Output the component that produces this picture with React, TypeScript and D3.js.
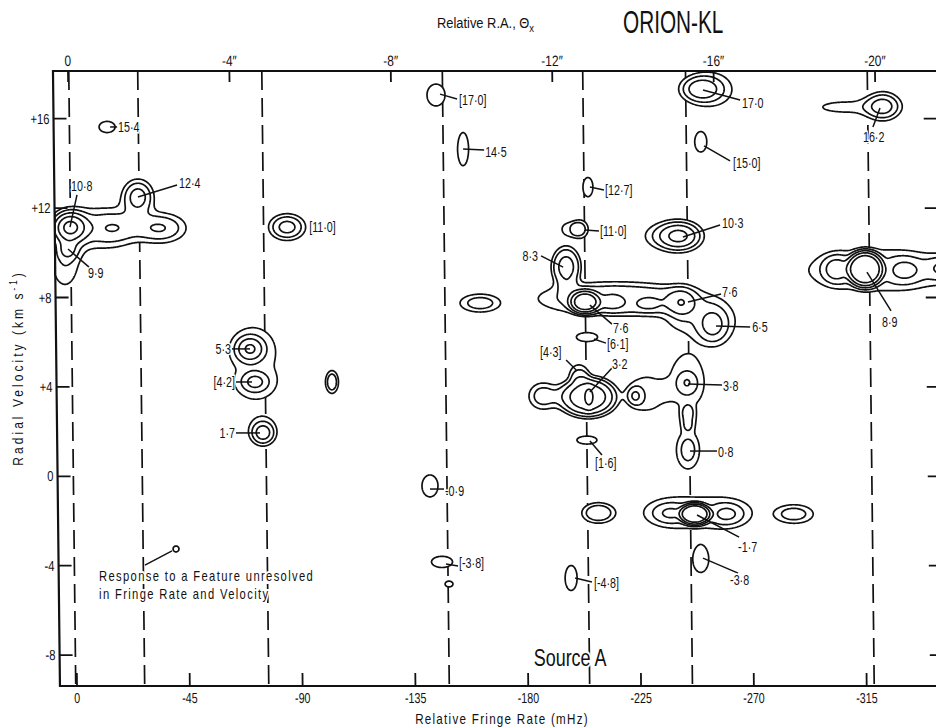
import React, { useEffect, useRef } from "react";
import * as d3 from "d3";

// axis ticks
const fringeTicks = [0, -45, -90, -135, -180, -225, -270, -315];
const raTicks = [0, -4, -8, -12, -16, -20];
const velocityTicks = [-8, -4, 0, 4, 8, 12, 16];

// fringe rate (mHz) of the dashed reference lines
const dashedLines = [0.5, -27, -76.5, -148.5, -204.5, -245.5, -318];

// emission components: [fringe rate mHz, velocity km/s, peak, half width mHz, half height km/s, profile exponent]
const components: number[][] = [
  [-12.0, 15.63, 1.3, 3.2, 0.25, 4], // 15.4
  [2.8, 11.15, 7, 8.0, 0.8, 2], // 10.8
  [-6.0, 11.1, 1.6, 8, 0.7, 2],
  [-16.0, 11.11, 1.9, 7.2, 0.62, 2],
  [-33.1, 11.11, 2.9, 10.4, 0.67, 2],
  [-24.3, 12.5, 3.6, 6.4, 0.8, 2], // 12.4
  [3.6, 10.12, 1.9, 2.8, 0.31, 2], // 9.9
  [4.8, 9.59, 1.6, 4.8, 1.0, 2],
  [-83.8, 11.15, 3.5, 7.4, 0.6, 2], // 11.0
  [-69.0, 5.7, 4.0, 6.0, 0.6, 2], // 5.3
  [-71.0, 4.22, 2.5, 4.8, 0.4, 2], // 4.2
  [-71.8, 4.99, 1.05, 6, 1.1, 3],
  [-74.2, 1.94, 3.5, 5.0, 0.55, 2], // 1.7
  [-101.7, 4.22, 2.2, 2.6, 0.51, 3],
  [-39.5, -3.25, 1.3, 1.2, 0.134, 4], // unresolved response
  [-143.2, 17.06, 1.3, 3.6, 0.49, 4], // [17.0]
  [-154.0, 14.64, 1.3, 2.2, 0.74, 4], // 14.5
  [-203.8, 12.94, 1.3, 2.0, 0.43, 4], // [12.7]
  [-200.7, 11.06, 2.0, 3.2, 0.4, 3], // [11.0]
  [-195.9, 11.06, 1.2, 2.4, 0.25, 3],
  [-140.8, -0.43, 1.3, 3.2, 0.49, 4], // -0.9
  [-145.6, -3.83, 1.3, 4.2, 0.25, 4], // [-3.8]
  [-148.4, -4.82, 1.3, 1.6, 0.13, 4],
  [-197.1, -4.55, 1.3, 2.4, 0.56, 4], // [-4.8]
  [-207.8, -1.64, 2.3, 6.4, 0.45, 3],
  [-160.8, 7.75, 2.0, 8.0, 0.4, 3],
  [-195.1, 9.36, 3.2, 6.0, 0.95, 3], // 8.3
  [-202.6, 7.8, 8, 6.8, 0.58, 3], // 7.6
  [-213.4, 7.8, 1.6, 3.6, 0.25, 2],
  [-227.8, 7.71, 1.3, 2.4, 0.15, 2],
  [-214, 7.95, 2.1, 30, 0.75, 4],
  [-241.3, 7.76, 2.6, 5.2, 0.63, 2], // 7.6
  [-253.7, 6.77, 2.6, 5.6, 0.76, 2], // 6.5
  [-248.5, 7.07, 1.3, 10, 0.67, 2],
  [-203.4, 6.23, 1.3, 4.2, 0.2, 4], // [6.1]
  [-203.8, 3.55, 6, 12.8, 0.98, 3], // 3.2
  [-204.2, 3.55, 2.5, 1.6, 0.45, 2],
  [-200.2, 4.62, 1.6, 3.2, 0.36, 3], // [4.3]
  [-185.9, 3.59, 2.4, 5.6, 0.58, 2],
  [-222.6, 3.59, 2.0, 2.6, 0.33, 2],
  [-227.4, 3.7, 1.3, 6.4, 0.72, 4],
  [-243.3, 4.17, 1.3, 6.8, 1.07, 4], // 3.8
  [-243.3, 4.17, 1.5, 3.2, 0.4, 4],
  [-243.7, 1.18, 1.3, 4.6, 0.85, 4], // 0.8
  [-243.7, 1.18, 1.5, 2.0, 0.36, 4],
  [-243.7, 2.61, 1.3, 2.6, 0.45, 4],
  [-203.4, 1.62, 1.3, 4.0, 0.18, 4], // [1.6]
  [-240.5, 10.75, 4.8, 9.6, 0.72, 2], // 10.3
  [-232.6, 10.75, 1.2, 4, 0.27, 2],
  [-248.8, 17.33, 3.5, 8.0, 0.58, 2], // 17.0
  [-254.4, 17.29, 1.2, 4.8, 0.45, 2],
  [-248.8, 14.96, 1.3, 2.4, 0.45, 4], // [15.0]
  [-321.5, 16.56, 3.2, 6.8, 0.63, 2], // 16.2
  [-306.3, 16.52, 1.25, 8.8, 0.22, 2],
  [-314.4, 9.27, 9, 8.0, 0.89, 4], // 8.9
  [-302.8, 9.27, 2.8, 5.0, 0.55, 2],
  [-330.1, 9.22, 2.2, 5.6, 0.45, 2],
  [-346.2, 9.31, 2.2, 6, 0.45, 2],
  [-320.3, 9.22, 1.5, 28, 0.9, 4],
  [-246.5, -1.69, 9, 6.8, 0.54, 4], // -1.7
  [-236.5, -1.65, 2.0, 5.6, 0.36, 2],
  [-259.3, -1.69, 2.2, 5.6, 0.4, 2],
  [-247.7, -1.61, 1.3, 18, 0.67, 3],
  [-286.4, -1.69, 1.9, 7.2, 0.4, 3],
  [-248.8, -3.7, 1.3, 3.2, 0.6, 4], // -3.8
];

const contourLevels = [1, 1.7, 2.8, 4.5, 7, 11];

// feature labels: text, leader [f0, v0, f1, v1], text position [f, v], anchor
type Label = { text: string; leader: number[] | null; at: number[]; anchor: string };
const labels: Label[] = [
  { text: "15·4", leader: [-13.2, 15.63, -16.0, 15.63], at: [-16.4, 15.63], anchor: "start" },
  { text: "10·8", leader: [2.8, 11.15, 0, 12.59], at: [2.4, 12.99], anchor: "start" },
  { text: "12·4", leader: [-24.3, 12.5, -39.9, 13.03], at: [-40.7, 13.12], anchor: "start" },
  { text: "9·9", leader: [3.6, 10.17, -4.8, 9.36], at: [-4.4, 9.1], anchor: "start" },
  { text: "[11·0]", leader: null, at: [-92.6, 11.15], anchor: "start" },
  { text: "5·3", leader: [-61.8, 5.7, -69.0, 5.7], at: [-61.4, 5.7], anchor: "end" },
  { text: "[4·2]", leader: [-63.4, 4.22, -69.8, 4.22], at: [-63.0, 4.22], anchor: "end" },
  { text: "1·7", leader: [-63.4, 1.94, -73.0, 1.94], at: [-63.0, 1.94], anchor: "end" },
  { text: "[17·0]", leader: [-144.8, 17.1, -151.6, 16.88], at: [-152.4, 16.84], anchor: "start" },
  { text: "14·5", leader: [-154.0, 14.64, -162.4, 14.6], at: [-162.8, 14.51], anchor: "start" },
  { text: "[12·7]", leader: [-204.6, 12.94, -210.2, 12.81], at: [-210.6, 12.81], anchor: "start" },
  { text: "[11·0]", leader: [-202.6, 11.02, -208.2, 10.97], at: [-208.6, 10.97], anchor: "start" },
  { text: "8·3", leader: [-185.1, 9.86, -193.9, 9.36], at: [-183.9, 9.86], anchor: "end" },
  { text: "7·6", leader: [-204.6, 7.66, -213.4, 6.81], at: [-213.8, 6.63], anchor: "start" },
  { text: "7·6", leader: [-243.7, 7.8, -256.9, 8.16], at: [-257.3, 8.25], anchor: "start" },
  { text: "6·5", leader: [-254.9, 6.72, -268.5, 6.68], at: [-269.3, 6.68], anchor: "start" },
  { text: "[6·1]", leader: [-206.2, 6.14, -211.0, 5.96], at: [-211.4, 5.92], anchor: "start" },
  { text: "[4·3]", leader: [-195.1, 5.2, -199.5, 4.71], at: [-184.7, 5.56], anchor: "start" },
  { text: "3·2", leader: [-204.6, 3.77, -213.4, 4.85], at: [-213.4, 5.02], anchor: "start" },
  { text: "3·8", leader: [-243.7, 4.13, -257.3, 4.08], at: [-257.7, 4.04], anchor: "start" },
  { text: "0·8", leader: [-244.5, 1.13, -255.3, 1.13], at: [-255.7, 1.09], anchor: "start" },
  { text: "[1·6]", leader: [-204.6, 1.58, -209.4, 0.95], at: [-206.6, 0.6], anchor: "start" },
  { text: "-0·9", leader: [-140.8, -0.57, -146.4, -0.57], at: [-146.8, -0.66], anchor: "start" },
  { text: "[-3·8]", leader: [-147.2, -3.92, -152.0, -4.01], at: [-152.4, -3.88], anchor: "start" },
  { text: "[-4·8]", leader: [-198.7, -4.55, -205.4, -4.73], at: [-206.2, -4.77], anchor: "start" },
  { text: "10·3", leader: [-241.7, 10.71, -256.5, 11.24], at: [-257.3, 11.33], anchor: "start" },
  { text: "17·0", leader: [-249.7, 17.28, -264.5, 16.84], at: [-265.3, 16.7], anchor: "start" },
  { text: "[15·0]", leader: [-250.1, 14.78, -260.5, 14.11], at: [-261.7, 14.02], anchor: "start" },
  { text: "16·2", leader: [-320.3, 16.48, -317.5, 15.63], at: [-313.5, 15.18], anchor: "start" },
  { text: "8·9", leader: [-315.1, 9.14, -324.7, 7.4], at: [-321.1, 6.9], anchor: "start" },
  { text: "-1·7", leader: [-247.3, -1.73, -264.1, -2.72], at: [-263.7, -3.16], anchor: "start" },
  { text: "-3·8", leader: [-249.7, -3.66, -263.7, -4.33], at: [-260.5, -4.64], anchor: "start" },
];

const responseNote = ["Response to a Feature unresolved", "in Fringe Rate and Velocity"];
const responseLeader = [-27.1, -3.97, -37.9, -3.34];
const responseText = [-8.8, -4.46, -5.27];
const sourceLabel = { text: "Source A", at: [-196.7, -8.13] };

const FONT = "'Liberation Sans', Arial, sans-serif";

const W = 936;
const H = 728;

// condensed lettering: draw text squeezed horizontally
function addText(
  g: any,
  x: number,
  y: number,
  text: string,
  size: number,
  sx: number,
  anchor = "start",
  spacing = 0
) {
  return g
    .append("text")
    .attr("transform", `translate(${x},${y}) scale(${sx},1)`)
    .attr("text-anchor", anchor)
    .style("font-size", size + "px")
    .style("letter-spacing", spacing + "px")
    .attr("fill", "#111")
    .text(text);
}

export default function App() {
  const ref = useRef<SVGSVGElement>(null);

  useEffect(() => {
    const svg = d3.select(ref.current);
    svg.selectAll("*").remove();

    const top = 71;
    const bottom = 686;
    const fLeft = 6.8;
    const fRight = -345.5;

    // the scan is slightly sheared: vertical lines lean right going down
    const skewDeg = 0.65;
    const t = Math.tan((skewDeg * Math.PI) / 180);

    // scales for the marks (unsheared) and for the frame (sheared group)
    const x = d3.scaleLinear().domain([0, -315]).range([77, 866.7]);
    const y = d3.scaleLinear().domain([0, 16]).range([476.3, 118.7]);
    const xF = d3.scaleLinear().domain([0, -315]).range([77 - bottom * t, 866.7 - bottom * t]);
    const ra = d3.scaleLinear().domain([0, -20]).range([68 - top * t, 875 - top * t]);

    // ---------- dashed reference lines ----------
    const dashG = svg.append("g").attr("transform", `skewX(${skewDeg})`);
    dashG
      .selectAll("line")
      .data(dashedLines)
      .enter()
      .append("line")
      .attr("x1", (d) => xF(d))
      .attr("x2", (d) => xF(d))
      .attr("y1", top)
      .attr("y2", bottom)
      .attr("stroke", "#111")
      .attr("stroke-width", 1.7)
      .attr("stroke-dasharray", "19 8");

    // ---------- contour field ----------
    const gx0 = 55;
    const gx1 = 946;
    const n = gx1 - gx0;
    const m = bottom - top;
    const grid = new Float64Array(n * m);
    const pxF = Math.abs(x(1) - x(0));
    const pxV = Math.abs(y(1) - y(0));

    components.forEach(([f, v, peak, wf, wv, p]) => {
      const cx = x(f) - gx0;
      const cy = y(v) - top;
      const k = Math.pow(2 * Math.log(peak), 1 / p);
      const sx = (wf * pxF) / k;
      const sy = (wv * pxV) / k;
      const reach = Math.pow(2 * Math.log(peak * 300), 1 / p);
      const i0 = Math.max(0, Math.floor(cx - reach * sx));
      const i1 = Math.min(n - 1, Math.ceil(cx + reach * sx));
      const j0 = Math.max(0, Math.floor(cy - reach * sy));
      const j1 = Math.min(m - 1, Math.ceil(cy + reach * sy));
      for (let j = j0; j <= j1; j++) {
        const dy = (j + 0.5 - cy) / sy;
        for (let i = i0; i <= i1; i++) {
          const dx = (i + 0.5 - cx) / sx;
          const r2 = dx * dx + dy * dy;
          grid[j * n + i] += peak * Math.exp(-0.5 * Math.pow(r2, p / 2));
        }
      }
    });

    const contours = d3.contours().size([n, m]).thresholds(contourLevels)(Array.from(grid));
    const shift = d3.geoTransform({
      point(px: number, py: number) {
        (this as any).stream.point(px + gx0, py + top);
      },
    });
    const path = d3.geoPath(shift);

    svg
      .append("g")
      .selectAll("path")
      .data(contours)
      .enter()
      .append("path")
      .attr("d", (d: any) => path(d))
      .attr("fill", "#fff")
      .attr("stroke", "#111")
      .attr("stroke-width", 1.7)
      .attr("stroke-linejoin", "round");

    // ---------- frame and axes ----------
    const frame = svg
      .append("g")
      .attr("transform", `skewX(${skewDeg})`)
      .style("font-family", FONT);

    const xl = xF(fLeft);
    const xr = xF(fRight);

    frame
      .append("path")
      .attr("d", `M${xr + 20},${top}H${xl}V${bottom}H${xr + 20}`)
      .attr("fill", "none")
      .attr("stroke", "#111")
      .attr("stroke-width", 2.2);

    // bottom ticks
    frame
      .selectAll(".bt")
      .data(fringeTicks)
      .enter()
      .append("line")
      .attr("x1", (d) => xF(d))
      .attr("x2", (d) => xF(d))
      .attr("y1", bottom)
      .attr("y2", bottom - 13)
      .attr("stroke", "#111")
      .attr("stroke-width", 1.8);
    fringeTicks.forEach((d) =>
      addText(frame, xF(d), bottom + 17, d === 0 ? "0" : `-${Math.abs(d)}`, 14.5, 0.74, "middle")
    );

    // top ticks (relative R.A.)
    frame
      .selectAll(".tt")
      .data(raTicks)
      .enter()
      .append("line")
      .attr("x1", (d) => ra(d))
      .attr("x2", (d) => ra(d))
      .attr("y1", top)
      .attr("y2", top + 11)
      .attr("stroke", "#111")
      .attr("stroke-width", 1.8);
    raTicks.forEach((d) =>
      addText(frame, ra(d), top - 5, d === 0 ? "0" : `-${Math.abs(d)}\u2033`, 15, 0.8, "middle")
    );

    // left and right velocity ticks
    frame
      .selectAll(".lt")
      .data(velocityTicks)
      .enter()
      .append("line")
      .attr("x1", xl)
      .attr("x2", xl + 13)
      .attr("y1", (d) => y(d))
      .attr("y2", (d) => y(d))
      .attr("stroke", "#111")
      .attr("stroke-width", 1.8);
    frame
      .selectAll(".rt")
      .data(velocityTicks)
      .enter()
      .append("line")
      .attr("x1", xr)
      .attr("x2", xr - 13)
      .attr("y1", (d) => y(d))
      .attr("y2", (d) => y(d))
      .attr("stroke", "#111")
      .attr("stroke-width", 1.8);
    velocityTicks.forEach((d) =>
      addText(frame, xl - 4, y(d) + 5, d > 0 ? `+${d}` : `${d}`, 14.5, 0.78, "end")
    );

    // ---------- labels and leaders ----------
    const ann = svg.append("g").style("font-family", FONT);

    ann
      .selectAll(".leader")
      .data(labels.filter((d) => d.leader))
      .enter()
      .append("line")
      .attr("x1", (d) => x(d.leader![0]))
      .attr("y1", (d) => y(d.leader![1]))
      .attr("x2", (d) => x(d.leader![2]))
      .attr("y2", (d) => y(d.leader![3]))
      .attr("stroke", "#111")
      .attr("stroke-width", 1.5);

    labels.forEach((d) => {
      addText(ann, x(d.at[0]), y(d.at[1]) + 5, d.text, 14.5, 0.74, d.anchor)
        .attr("stroke", "#fff")
        .attr("stroke-width", 3)
        .attr("paint-order", "stroke");
    });

    // unresolved response note
    ann
      .append("line")
      .attr("x1", x(responseLeader[0]))
      .attr("y1", y(responseLeader[1]))
      .attr("x2", x(responseLeader[2]))
      .attr("y2", y(responseLeader[3]))
      .attr("stroke", "#111")
      .attr("stroke-width", 1.4);
    responseNote.forEach((d, i) => {
      addText(ann, x(responseText[0]), y(responseText[i + 1]) + 5, d, 14, 0.8, "start", 1.7)
        .attr("stroke", "#fff")
        .attr("stroke-width", 4)
        .attr("paint-order", "stroke");
    });

    addText(ann, x(sourceLabel.at[0]), y(sourceLabel.at[1]) + 8, sourceLabel.text, 23, 0.78, "middle")
      .attr("stroke", "#fff")
      .attr("stroke-width", 4)
      .attr("paint-order", "stroke");

    // ---------- titles ----------
    const titles = svg.append("g").style("font-family", FONT);

    const raTitle = addText(titles, 437, 28, "", 15, 0.86);
    raTitle.append("tspan").text("Relative R.A., \u0398");
    raTitle.append("tspan").attr("dy", 4).style("font-size", "11px").text("x");

    addText(titles, 623, 33, "ORION-KL", 31, 0.67);

    addText(titles, 502, 724, "Relative Fringe Rate (mHz)", 14.5, 0.8, "middle", 1.6);

    const yTitle = titles
      .append("text")
      .attr("transform", "translate(23,368) rotate(-90) scale(0.8,1)")
      .attr("text-anchor", "middle")
      .attr("fill", "#111")
      .style("font-size", "15px")
      .style("letter-spacing", "3.8px");
    yTitle.append("tspan").text("Radial Velocity (km s");
    yTitle.append("tspan").attr("dy", -6).style("font-size", "10px").text("-1");
    yTitle.append("tspan").attr("dy", 6).text(")");
  }, []);

  return (
    <svg
      ref={ref}
      width={W}
      height={H}
      style={{ position: "absolute", left: 0, top: 0, background: "#fff" }}
    />
  );
}
